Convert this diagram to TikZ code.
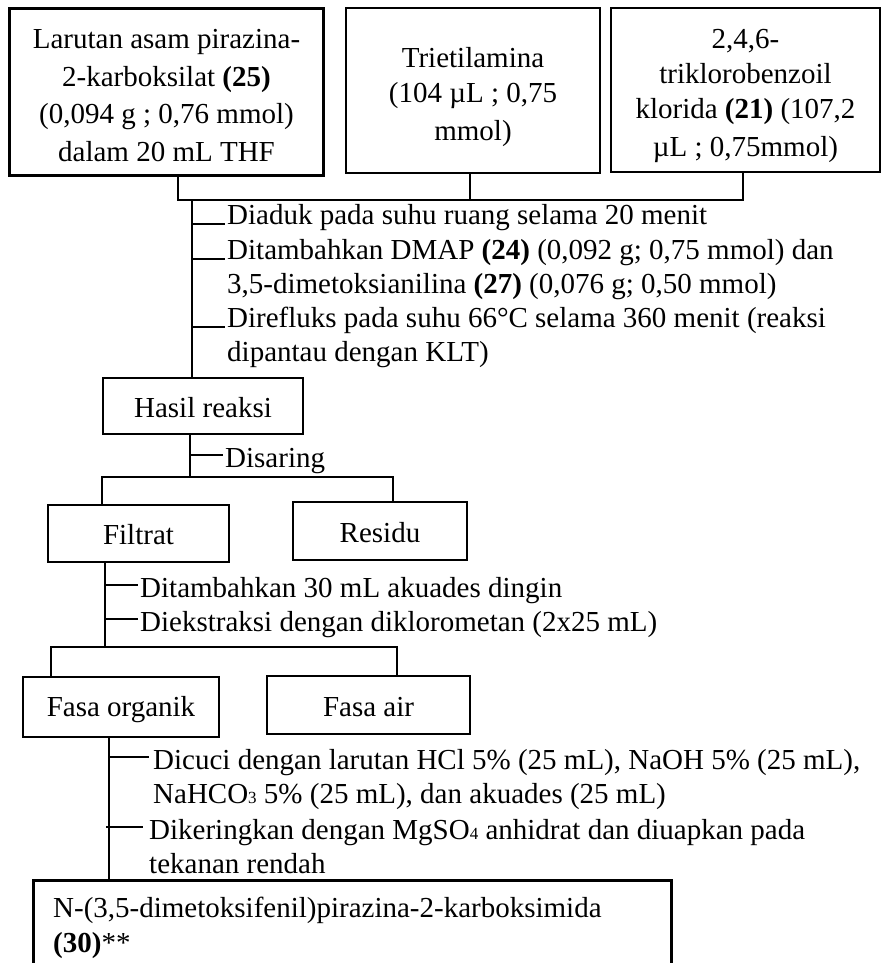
\documentclass[tikz,border=0pt]{standalone}
\usepackage{fontspec}
\setmainfont{Liberation Serif}
\newcommand{\fsz}{\fontsize{29pt}{35pt}\selectfont}
\newcommand{\subsm}[1]{{\fontsize{17pt}{17pt}\selectfont #1}}
\newcommand{\ls}{\rule[-4.5pt]{0pt}{35pt}}
\newcommand{\os}{\rule[-3pt]{0pt}{28pt}}
\begin{document}
\begin{tikzpicture}[x=1pt,y=-1pt,
  box/.style={draw, line width=2.6pt, inner sep=0pt, align=center, font=\fsz},
  conn/.style={line width=1.2pt},
  txt/.style={font=\fsz, inner sep=0pt, anchor=base west}]
\useasboundingbox (0,0) rectangle (883,963);

% top boxes
\node[box, minimum width=314pt, minimum height=167pt] (b1) at (166.5,92)
  {\ls Larutan asam pirazina-\\\ls 2-karboksilat \textbf{(25)}\\\ls (0,094 g ; 0,76 mmol)\\\ls dalam 20 mL THF};
\node[box, minimum width=254pt, minimum height=165pt] (b2) at (473,90.5)
  {\rule[-4.5pt]{0pt}{38pt}Trietilamina\\\ls (104 µL ; 0,75\\\ls mmol)};
\node[box, minimum width=269pt, minimum height=164pt] (b3) at (745.5,90)
  {\ls 2,4,6-\\\ls triklorobenzoil\\\ls klorida \textbf{(21)} (107,2\\\ls µL ; 0,75mmol)};

\coordinate (j1) at (178,200);
\coordinate (j2) at (470,200);
\coordinate (j3) at (743,200);
\coordinate (m0) at (192,200);
\draw[conn] (b1.south -| j1) -- (j1) -- (j3) -- (b3.south -| j3);
\draw[conn] (b2.south -| j2) -- (j2);

% reaction steps
\node[txt] (s1) at (227,224) {Diaduk pada suhu ruang selama 20 menit};
\node[txt] (s2) at (227,259) {Ditambahkan DMAP \textbf{(24)} (0,092 g; 0,75 mmol) dan};
\node[txt] (s2b) at (227,293) {3,5-dimetoksianilina \textbf{(27)} (0,076 g; 0,50 mmol)};
\node[txt] (s3) at (227,327) {Direfluks pada suhu 66°C selama 360 menit (reaksi};
\node[txt] (s3b) at (227,361) {dipantau dengan KLT)};

\node[box, minimum width=200pt, minimum height=56pt] (hasil) at (203,406) {\os Hasil reaksi};

\draw[conn] (m0) -- (hasil.north -| m0);
\foreach \s in {s1,s2,s3}
  \draw[conn] (\s.base west -| m0) -- ([xshift=-2pt]\s.base west);

% filtration
\coordinate (m1) at (190,477);
\node[txt] (dis) at (225,467) {Disaring};
\draw[conn] (hasil.south -| m1) -- (m1);
\draw[conn] ([yshift=12pt]dis.base west -| m1) -- ([xshift=-2pt,yshift=12pt]dis.base west);

\node[box, minimum width=181pt, minimum height=57pt] (filtrat) at (138.5,533.5) {\os Filtrat};
\node[box, minimum width=174pt, minimum height=58pt] (residu) at (380,531) {\os Residu};
\coordinate (f1) at (102,477);
\coordinate (f2) at (393,477);
\draw[conn] (filtrat.north -| f1) -- (f1) -- (f2) -- (residu.north -| f2);

% extraction
\coordinate (m2) at (105,647);
\node[txt] (e1) at (140,597) {Ditambahkan 30 mL akuades dingin};
\node[txt] (e2) at (140,631) {Diekstraksi dengan diklorometan (2x25 mL)};
\draw[conn] (filtrat.south -| m2) -- (m2);
\foreach \s in {e1,e2}
  \draw[conn] ([yshift=12pt]\s.base west -| m2) -- ([xshift=-2pt,yshift=12pt]\s.base west);

\node[box, minimum width=196pt, minimum height=60pt] (forg) at (121,707) {\os Fasa organik};
\node[box, minimum width=203pt, minimum height=58pt] (fair) at (368.5,705) {\os Fasa air};
\coordinate (g1) at (51,647);
\coordinate (g2) at (397,647);
\draw[conn] (forg.north -| g1) -- (g1) -- (g2) -- (fair.north -| g2);

% washing
\coordinate (m3) at (109,879);
\node[txt] (w1) at (153,769) {Dicuci dengan larutan HCl 5\% (25 mL), NaOH 5\% (25 mL),};
\node[txt] (w1b) at (153,803) {NaHCO\subsm{3} 5\% (25 mL), dan akuades (25 mL)};
\node[txt] (w2) at (149,839) {Dikeringkan dengan MgSO\subsm{4} anhidrat dan diuapkan pada};
\node[txt] (w2b) at (149,873) {tekanan rendah};

\node[draw, line width=2.6pt, inner sep=0pt, anchor=north west,
      minimum width=638pt, minimum height=120pt] (fin) at (32,879) {};
\draw[conn] (forg.south -| m3) -- (fin.north -| m3);
\draw[conn] ([yshift=12pt]w1.base west -| m3) -- ([xshift=-4pt,yshift=12pt]w1.base west);
\draw[conn] ([yshift=12pt,xshift=-3pt]w2.base west -| m3) -- ([xshift=-6pt,yshift=12pt]w2.base west);

\node[txt] (p1) at (53,917) {N-(3,5-dimetoksifenil)pirazina-2-karboksimida};
\node[txt] (p2) at (53,952) {\textbf{(30)}**};
\end{tikzpicture}
\end{document}
